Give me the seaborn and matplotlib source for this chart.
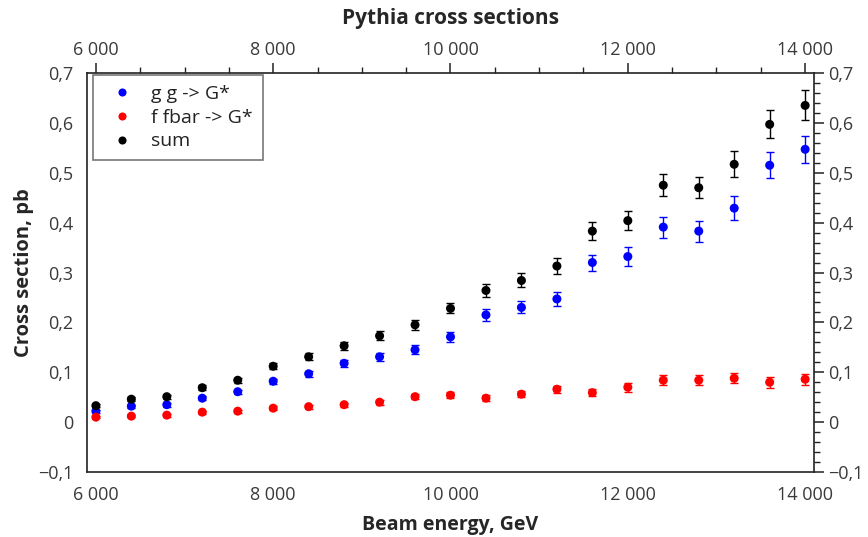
import numpy as np
import pandas as pd
import matplotlib
matplotlib.use("Agg")
import matplotlib.pyplot as plt
import seaborn as sns
from matplotlib.ticker import FuncFormatter, MultipleLocator

# ---- data ----
energy = [6000, 6400, 6800, 7200, 7600, 8000, 8400, 8800, 9200, 9600, 10000,
          10400, 10800, 11200, 11600, 12000, 12400, 12800, 13200, 13600, 14000]
gg = [0.022, 0.032, 0.035, 0.048, 0.061, 0.082, 0.097, 0.118, 0.131, 0.145, 0.171,
      0.215, 0.230, 0.247, 0.320, 0.332, 0.391, 0.383, 0.429, 0.515, 0.547]
gg_err = [0.003, 0.003, 0.004, 0.004, 0.004, 0.005, 0.006, 0.007, 0.008, 0.009, 0.010,
          0.012, 0.012, 0.014, 0.016, 0.019, 0.021, 0.021, 0.024, 0.026, 0.027]
ff = [0.010, 0.012, 0.014, 0.020, 0.022, 0.028, 0.031, 0.035, 0.040, 0.051, 0.054,
      0.048, 0.056, 0.066, 0.059, 0.070, 0.084, 0.084, 0.088, 0.080, 0.086]
ff_err = [0.002, 0.002, 0.003, 0.003, 0.003, 0.004, 0.004, 0.004, 0.005, 0.005, 0.006,
          0.006, 0.006, 0.007, 0.007, 0.009, 0.010, 0.010, 0.010, 0.011, 0.011]
total = [0.033, 0.046, 0.051, 0.069, 0.084, 0.112, 0.131, 0.153, 0.173, 0.195, 0.228,
         0.264, 0.284, 0.313, 0.383, 0.404, 0.475, 0.470, 0.517, 0.597, 0.635]
total_err = [0.003, 0.004, 0.004, 0.005, 0.005, 0.006, 0.007, 0.008, 0.009, 0.010, 0.010,
             0.013, 0.014, 0.016, 0.018, 0.019, 0.022, 0.021, 0.026, 0.028, 0.030]
series_names = ["g g -> G*", "f fbar -> G*", "sum"]
series_colors = ["#0000ff", "#ff0000", "#000000"]

title = "Pythia cross sections"
xlabel = "Beam energy, GeV"
ylabel = "Cross section, pb"

df = pd.concat([
    pd.DataFrame({"energy": energy, "xs": gg, "err": gg_err, "process": series_names[0]}),
    pd.DataFrame({"energy": energy, "xs": ff, "err": ff_err, "process": series_names[1]}),
    pd.DataFrame({"energy": energy, "xs": total, "err": total_err, "process": series_names[2]}),
], ignore_index=True)

sns.set_theme(style="white")
plt.rcParams["font.family"] = ["Open Sans", "DejaVu Sans"]

fig = plt.figure(figsize=(8.68, 5.37), dpi=100)
ax = fig.add_axes([87 / 868, 1 - 472 / 537, (814 - 87) / 868, (472 - 73) / 537])

palette = dict(zip(series_names, series_colors))
for name in series_names:
    sub = df[df["process"] == name]
    ax.errorbar(sub["energy"], sub["xs"], yerr=sub["err"], fmt="none",
                ecolor=palette[name], elinewidth=1.0, capsize=3, capthick=1.0, zorder=2)
sns.scatterplot(data=df, x="energy", y="xs", hue="process", palette=palette,
                hue_order=series_names, s=42, edgecolor="none", ax=ax, zorder=3)

ax.set_xlim(5900, 14100)
ax.set_ylim(-0.1, 0.7)
ax.xaxis.set_major_locator(MultipleLocator(2000))
ax.xaxis.set_minor_locator(MultipleLocator(500))
ax.yaxis.set_major_locator(MultipleLocator(0.1))
ax.yaxis.set_minor_locator(MultipleLocator(0.02))

def fx(v, pos):
    return f"{int(round(v)):,}".replace(",", " ")

def fy(v, pos):
    if abs(v) < 1e-9:
        return "0"
    s = f"{v:.1f}".replace(".", ",")
    return s.replace("-", "\u2212")

ax.xaxis.set_major_formatter(FuncFormatter(fx))
ax.yaxis.set_major_formatter(FuncFormatter(fy))

tick_color = "#3a3a3a"
ax.tick_params(which="both", direction="out", top=True, right=True,
               labeltop=True, labelright=True, color="#222222")
ax.tick_params(which="major", length=7, width=1.1, labelsize=13, labelcolor=tick_color, pad=3)
ax.tick_params(which="minor", length=4, width=1.0)
for sp in ax.spines.values():
    sp.set_color("#222222")
    sp.set_linewidth(1.2)

ax.set_xlabel(xlabel, fontsize=14, fontweight="bold", labelpad=8)
ax.set_ylabel(ylabel, fontsize=14.5, fontweight="bold", labelpad=3)
ax.set_title(title, fontsize=15, fontweight="bold", pad=35)

handles, labels = ax.get_legend_handles_labels()
leg = ax.legend(handles, labels, loc="upper left", bbox_to_anchor=(6 / 727, 1 - 2 / 399),
                borderaxespad=0, frameon=True, fancybox=False, fontsize=14,
                markerscale=0.9, handletextpad=0.5, borderpad=0.5, labelspacing=0.30,
                handlelength=2.0)
leg.get_frame().set_edgecolor("#555555")
leg.get_frame().set_linewidth(1.2)
for t in leg.get_texts():
    t.set_color("#222222")

fig.savefig("out.png", dpi=100)
